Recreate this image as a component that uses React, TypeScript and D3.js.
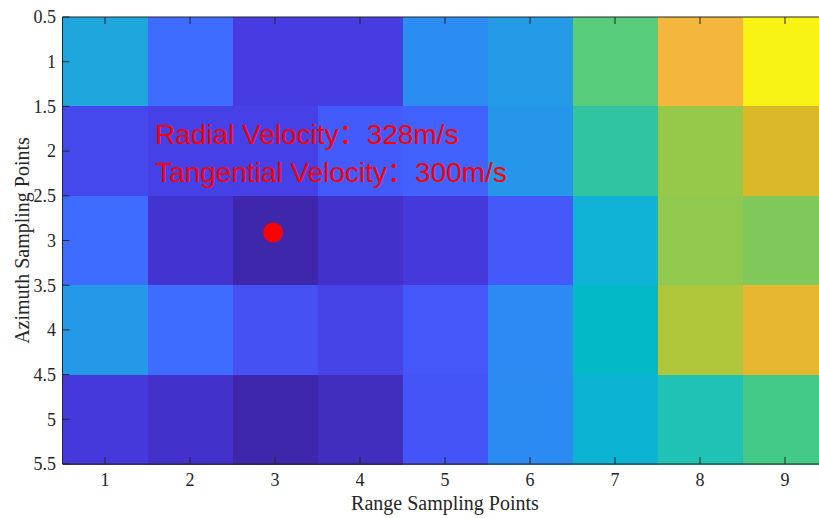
import React from "react";
import * as d3 from "d3";

const rangePoints = [1, 2, 3, 4, 5, 6, 7, 8, 9];
const azimuthPoints = [1, 2, 3, 4, 5];
// heatmap values (normalised 0..1), one row per azimuth sampling point
const row1 = [0.4, 0.2, 0.08, 0.08, 0.295, 0.345, 0.7, 0.92, 0.99];
const row2 = [0.12, 0.095, 0.095, 0.165, 0.18, 0.33, 0.62, 0.8, 0.88];
const row3 = [0.2, 0.05, 0.005, 0.04, 0.07, 0.16, 0.45, 0.79, 0.76];
const row4 = [0.34, 0.2, 0.14, 0.1, 0.16, 0.28, 0.5, 0.84, 0.9];
const row5 = [0.07, 0.04, 0.005, 0.025, 0.15, 0.285, 0.46, 0.56, 0.66];
const values = [row1, row2, row3, row4, row5];

const xTicks = [1, 2, 3, 4, 5, 6, 7, 8, 9];
const yTicks = [0.5, 1, 1.5, 2, 2.5, 3, 3.5, 4, 4.5, 5, 5.5];
const yTickLabels = ["0.5", "1", "1.5", "2", "2.5", "3", "3.5", "4", "4.5", "5", "5.5"];

const targetPoint = { x: 2.98, y: 2.91 };
const annotationNames = ["Radial Velocity", "Tangential Velocity"];
const annotationValues = ["328m/s", "300m/s"];
const annotationX = 1.59;
const annotationY = [1.92, 2.345];

const xLabel = "Range Sampling Points";
const yLabel = "Azimuth Sampling Points";

// parula-like colormap anchors
const cmapT = [0, 0.04, 0.08, 0.12, 0.16, 0.2, 0.28, 0.34, 0.4, 0.45, 0.5, 0.56, 0.62, 0.66, 0.7, 0.76, 0.8, 0.84, 0.88, 0.92, 0.96, 1];
const cmapC = ["#3e26a8", "#4231cb", "#463ce2", "#4549ec", "#4458fa", "#3e6cff", "#2d89f4", "#2599e8", "#1fa6dd", "#10b2d6", "#03b9c6", "#1fc2b4", "#30c5a0", "#43ca88", "#57cd7c", "#80c85a", "#96c84a", "#afc63a", "#dab828", "#f4b63c", "#f9d52a", "#f9fb0e"];

const W = 819;
const H = 518;
const left = 62.5;
const right = 827.5;
const top = 17;
const bottom = 464;

export default function App() {
  const x = d3.scaleLinear().domain([0.5, 9.5]).range([left, right]);
  const y = d3.scaleLinear().domain([0.5, 5.5]).range([top, bottom]);
  const color = d3
    .scaleLinear<string>()
    .domain(cmapT)
    .range(cmapC)
    .interpolate(d3.interpolateRgb)
    .clamp(true);
  const axisColor = "#262626";
  const tickLen = 7;
  const serif = "'Liberation Serif', 'Times New Roman', serif";
  const sans = "'Liberation Sans', Arial, sans-serif";
  const cjk = "'Noto Sans CJK SC', sans-serif";

  return (
    <svg width={W} height={H} style={{ position: "absolute", left: 0, top: 0, background: "#fff" }}>
      <g>
        {values.map((row, ri) =>
          row.map((v, ci) => {
            const cx = rangePoints[ci];
            const cy = azimuthPoints[ri];
            const x0 = x(cx - 0.5);
            const x1 = x(cx + 0.5);
            const y0 = y(cy - 0.5);
            const y1 = y(cy + 0.5);
            return (
              <rect
                key={`${ri}-${ci}`}
                x={x0}
                y={y0}
                width={x1 - x0 + 0.5}
                height={y1 - y0 + 0.5}
                fill={color(v)}
                shapeRendering="crispEdges"
              />
            );
          })
        )}
      </g>
      {/* axes box */}
      <g stroke={axisColor} strokeWidth={1} fill="none">
        <line x1={left} x2={left} y1={top} y2={bottom} />
        <line x1={left} x2={right} y1={top} y2={top} />
        <line x1={left} x2={right} y1={bottom} y2={bottom} />
        <line x1={right} x2={right} y1={top} y2={bottom} />
        {xTicks.map((t) => (
          <g key={`xt${t}`}>
            <line x1={x(t)} x2={x(t)} y1={bottom} y2={bottom - tickLen} />
            <line x1={x(t)} x2={x(t)} y1={top} y2={top + tickLen} />
          </g>
        ))}
        {yTicks.map((t) => (
          <g key={`yt${t}`}>
            <line x1={left} x2={left + tickLen} y1={y(t)} y2={y(t)} />
            <line x1={right} x2={right - tickLen} y1={y(t)} y2={y(t)} />
          </g>
        ))}
      </g>
      <g fontFamily={serif} fontSize={18} fill={axisColor}>
        {xTicks.map((t) => (
          <text key={`xl${t}`} x={x(t)} y={486} textAnchor="middle">
            {String(t)}
          </text>
        ))}
        {yTicks.map((t, i) => (
          <text key={`yl${t}`} x={56} y={y(t)} dy="0.35em" textAnchor="end">
            {yTickLabels[i]}
          </text>
        ))}
      </g>
      <text x={(left + right) / 2} y={510} textAnchor="middle" fontFamily={serif} fontSize={20} fill={axisColor}>
        {xLabel}
      </text>
      <text
        transform={`translate(29, ${(top + bottom) / 2}) rotate(-90)`}
        textAnchor="middle"
        fontFamily={serif}
        fontSize={20}
        fill={axisColor}
      >
        {yLabel}
      </text>
      <circle cx={x(targetPoint.x)} cy={y(targetPoint.y)} r={10} fill="#ff0000" />
      <g fontFamily={sans} fontSize={28} fill="#ff0000">
        {annotationNames.map((a, i) => (
          <text key={a} x={x(annotationX)} y={y(annotationY[i])}>
            {a}
            <tspan fontFamily={cjk}>：</tspan>
            {annotationValues[i]}
          </text>
        ))}
      </g>
    </svg>
  );
}
